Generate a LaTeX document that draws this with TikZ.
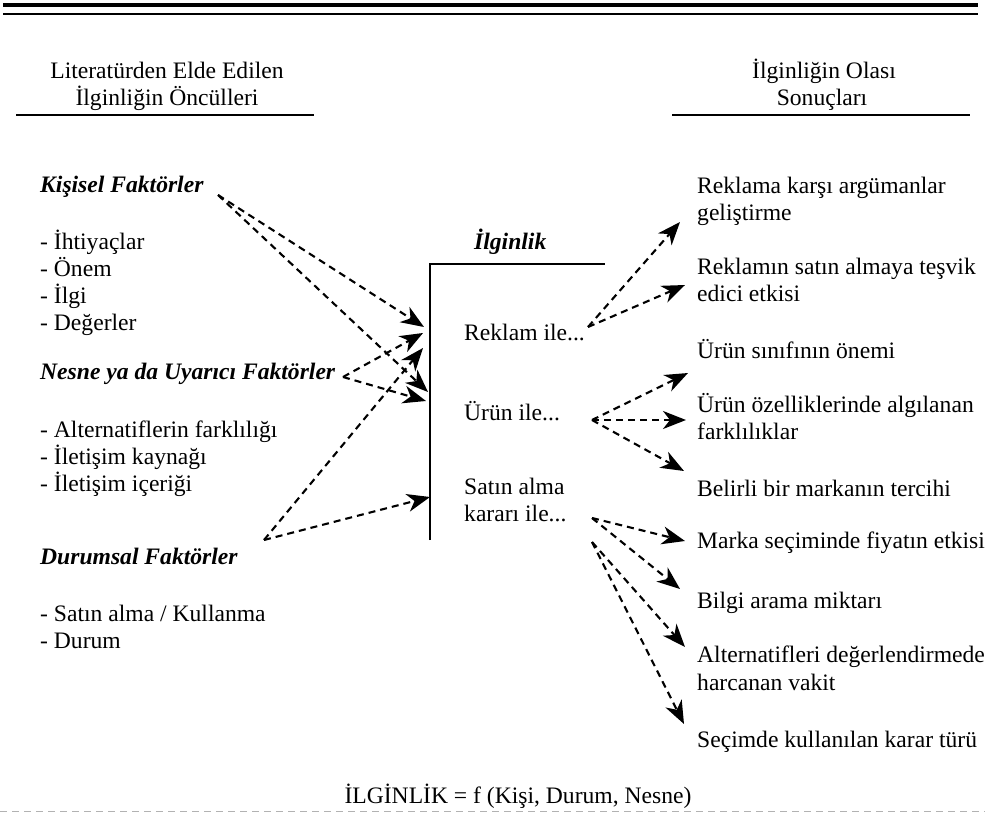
\documentclass[tikz,border=0pt]{standalone}
\usepackage{fontspec}
\setmainfont{Liberation Serif}
\usetikzlibrary{arrows.meta}

\begin{document}
\begin{tikzpicture}[x=1pt,y=-1pt,
  txt/.style={anchor=base west,inner sep=0pt,font=\fontsize{23.6}{27}\selectfont},
  ctxt/.style={anchor=base,inner sep=0pt,font=\fontsize{23.6}{27}\selectfont},
  head/.style={anchor=base west,inner sep=0pt,font=\fontsize{23.6}{27}\selectfont\bfseries\itshape},
  flow/.style={line width=2.1pt,dash pattern=on 7pt off 5pt,
    -{Stealth[length=23pt,width=18pt,inset=7pt]}},
  rulethin/.style={line width=2.4pt},
  rulethick/.style={line width=4pt}
]
\useasboundingbox (0,0) rectangle (985,816);

% rules at the top
\draw[rulethick] (3,5) -- (978,5);
\draw[rulethin] (3,14) -- (978,14);

% column headings
\node[ctxt] (hl1) at (167,78) {Literatürden Elde Edilen};
\node[ctxt] (hl2) at (167,105) {İlginliğin Öncülleri};
\draw[rulethin] (16,115) -- (314,115);
\node[ctxt] (hr1) at (824,78) {İlginliğin Olası};
\node[ctxt] (hr2) at (822,105) {Sonuçları};
\draw[rulethin] (672,115) -- (970,115);

% antecedents
\node[head] (kis) at (40,192) {Kişisel Faktörler};
\node[txt] (k1) at (40,249) {- İhtiyaçlar};
\node[txt] (k2) at (40,276) {- Önem};
\node[txt] (k3) at (40,303) {- İlgi};
\node[txt] (k4) at (40,330) {- Değerler};
\node[head] (nes) at (40,379) {Nesne ya da Uyarıcı Faktörler};
\node[txt] (n1) at (40,437) {- Alternatiflerin farklılığı};
\node[txt] (n2) at (40,464) {- İletişim kaynağı};
\node[txt] (n3) at (40,491) {- İletişim içeriği};
\node[head] (dur) at (40,564) {Durumsal Faktörler};
\node[txt] (d1) at (40,621) {- Satın alma / Kullanma};
\node[txt] (d2) at (40,648) {- Durum};

% involvement bracket
\node[head] (ilg) at (474,249) {İlginlik};
\draw[rulethin] (430,540) -- (430,264) -- (605,264);
\node[txt] (rek) at (464,340) {Reklam ile...};
\node[txt] (uru) at (464,420) {Ürün ile...};
\node[txt] (sat1) at (464,494) {Satın alma};
\node[txt] (sat2) at (464,521) {kararı ile...};

% consequences
\node[txt] (c1a) at (697,193) {Reklama karşı argümanlar};
\node[txt] (c1b) at (697,220) {geliştirme};
\node[txt] (c2a) at (697,274) {Reklamın satın almaya teşvik};
\node[txt] (c2b) at (697,301) {edici etkisi};
\node[txt] (c3) at (697,358) {Ürün sınıfının önemi};
\node[txt] (c4a) at (697,412) {Ürün özelliklerinde algılanan};
\node[txt] (c4b) at (697,439) {farklılıklar};
\node[txt] (c5) at (697,496) {Belirli bir markanın tercihi};
\node[txt] (c6) at (697,548) {Marka seçiminde fiyatın etkisi};
\node[txt] (c7) at (697,608) {Bilgi arama miktarı};
\node[txt] (c8a) at (697,662) {Alternatifleri değerlendirmede};
\node[txt] (c8b) at (697,690) {harcanan vakit};
\node[txt] (c9) at (697,747) {Seçimde kullanılan karar türü};

% arrow start and end points
\coordinate (kS) at (218,195);
\coordinate (nS) at (343,377);
\coordinate (dS) at (264,540);
\coordinate (kT1) at (424,327);
\coordinate (kT2) at (428,392);
\coordinate (nT1) at (423,333);
\coordinate (nT2) at (426,401);
\coordinate (dT1) at (423,348);
\coordinate (dT2) at (430,497);

\coordinate (rS) at (588,327);
\coordinate (uS) at (592,420);
\coordinate (sS1) at (592,518);
\coordinate (sS2) at (592,542);
\coordinate (rT1) at (680,222);
\coordinate (rT2) at (685,285);
\coordinate (uT1) at (688,373);
\coordinate (uT2) at (686,420);
\coordinate (uT3) at (684,471);
\coordinate (sT1) at (685,541);
\coordinate (sT2) at (680,589);
\coordinate (sT3) at (685,647);
\coordinate (sT4) at (684,724);

% antecedent arrows
\draw[flow] (kS) -- (kT1);
\draw[flow] (kS) -- (kT2);
\draw[flow] (nS) -- (nT1);
\draw[flow] (nS) -- (nT2);
\draw[flow] (dS) -- (dT1);
\draw[flow] (dS) -- (dT2);

% consequence arrows
\draw[flow] (rS) -- (rT1);
\draw[flow] (rS) -- (rT2);
\draw[flow] (uS) -- (uT1);
\draw[flow] (uS) -- (uT2);
\draw[flow] (uS) -- (uT3);
\draw[flow] (sS1) -- (sT1);
\draw[flow] (sS1) -- (sT2);
\draw[flow] (sS2) -- (sT3);
\draw[flow] (sS2) -- (sT4);

% formula and closing rule
\node[ctxt] (form) at (518,803) {İLGİNLİK = f (Kişi, Durum, Nesne)};
\draw[gray!60,line width=1pt,dash pattern=on 7pt off 5pt] (0,811) -- (985,811);
\end{tikzpicture}
\end{document}
